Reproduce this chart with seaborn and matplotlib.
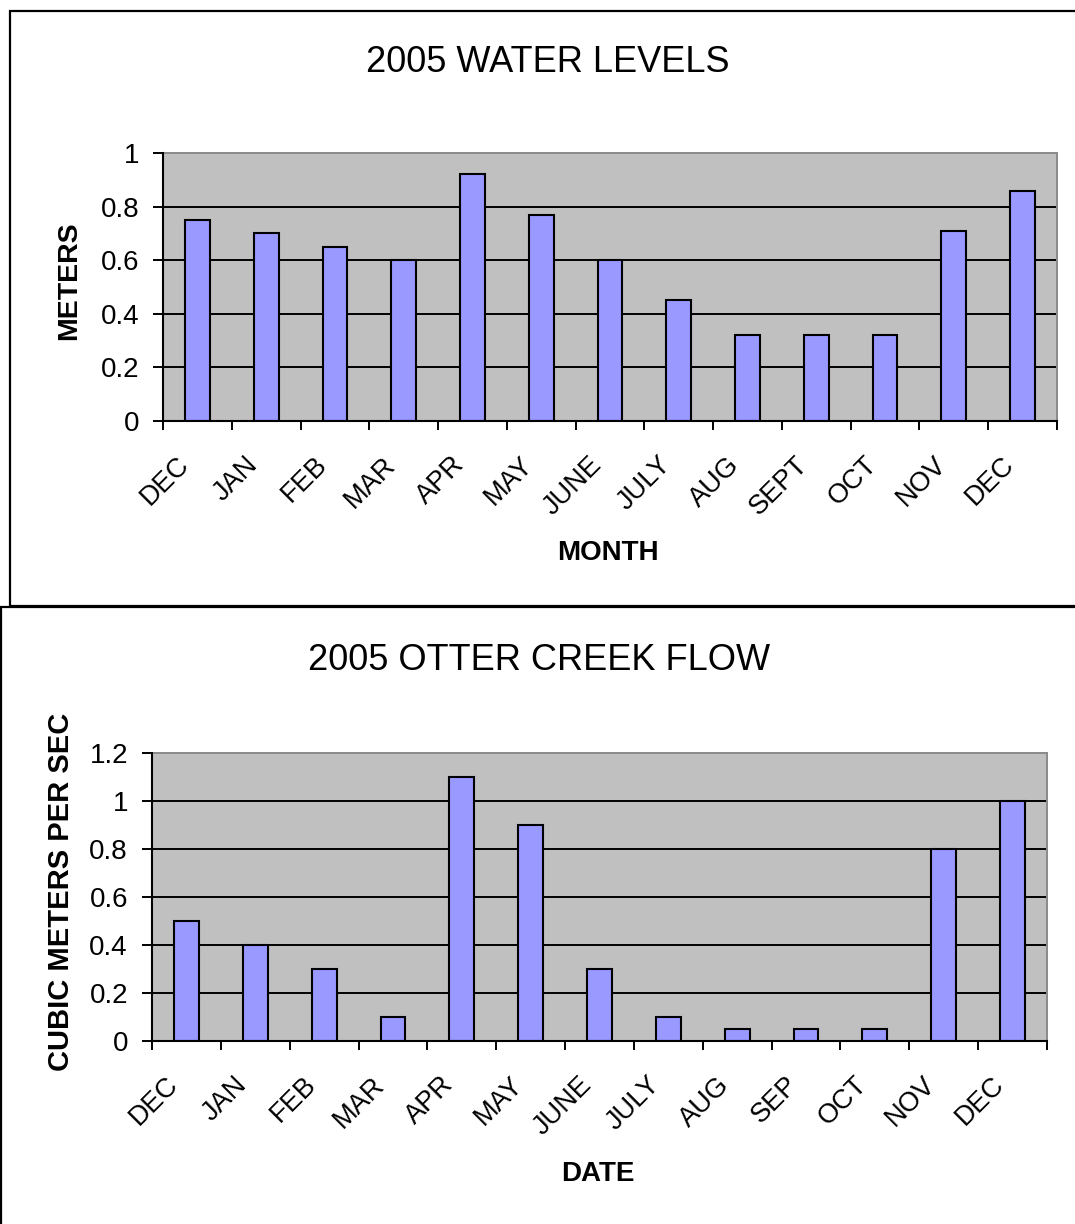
import numpy as np
import pandas as pd
import matplotlib
matplotlib.use("Agg")
import matplotlib.pyplot as plt
import matplotlib.transforms as mtransforms
from matplotlib.patches import Rectangle
from matplotlib.ticker import FuncFormatter, FixedLocator
import seaborn as sns

# ---- data ----
level_months = ["DEC", "JAN", "FEB", "MAR", "APR", "MAY", "JUNE", "JULY",
                "AUG", "SEPT", "OCT", "NOV", "DEC"]
level_values = [0.75, 0.70, 0.65, 0.60, 0.92, 0.77, 0.60, 0.45,
                0.32, 0.32, 0.32, 0.71, 0.86]
level_yticks = [0, 0.2, 0.4, 0.6, 0.8, 1.0]

flow_months = ["DEC", "JAN", "FEB", "MAR", "APR", "MAY", "JUNE", "JULY",
               "AUG", "SEP", "OCT", "NOV", "DEC"]
flow_values = [0.5, 0.4, 0.3, 0.1, 1.1, 0.9, 0.3, 0.1,
               0.05, 0.05, 0.05, 0.8, 1.0]
flow_yticks = [0, 0.2, 0.4, 0.6, 0.8, 1.0, 1.2]

sns.set_theme(style="white")
plt.rcParams['font.family'] = ['Liberation Sans', 'DejaVu Sans']
for k in ["text.color", "axes.labelcolor", "xtick.color", "ytick.color"]:
    plt.rcParams[k] = "black"

W, H = 1075, 1224
fig = plt.figure(figsize=(W / 100, H / 100), dpi=100)
fig.patch.set_facecolor("white")
PT = 72 / 100  # points per pixel


def px_axes(l, t, r, b):
    return fig.add_axes([l / W, 1 - b / H, (r - l) / W, (b - t) / H])


def draw_panel(ax, labels, values, yticks, ylabel, xlabel, ylab_xy, xlab_xy,
               ylabel_size):
    df = pd.DataFrame({"pos": list(range(len(values))), "value": values})
    sns.barplot(data=df, x="pos", y="value", ax=ax, color="#9999FF",
                saturation=1, width=0.36, edgecolor="black", linewidth=1.5,
                zorder=2)
    n = len(values)
    ax.set_xlim(-0.5, n - 0.5)
    ax.set_ylim(yticks[0], yticks[-1])
    ax.set_facecolor("#C0C0C0")
    ax.set_axisbelow(True)
    ax.set_yticks(yticks)
    ax.yaxis.set_major_formatter(FuncFormatter(lambda v, p: f"{v:g}"))
    ax.grid(axis="y", color="black", linewidth=1.4)
    ax.grid(axis="x", visible=False)
    gl = ax.yaxis.get_gridlines()
    gl[-1].set_visible(False)
    # x ticks: labels at centres, marks at boundaries
    ax.set_xticks(range(n))
    ax.set_xticklabels(labels)
    ax.xaxis.set_minor_locator(FixedLocator(np.arange(-0.5, n, 1.0)))
    ax.tick_params(axis="x", which="major", length=0, pad=0, labelsize=19.5)
    ax.tick_params(axis="x", which="minor", length=9 * PT, width=1.4,
                   color="black", bottom=True)
    ax.tick_params(axis="y", which="major", length=10 * PT, width=1.4,
                   color="black", left=True, labelsize=20, pad=14 * PT)
    offset = mtransforms.ScaledTranslation(-12 / 100, -40 / 100,
                                           fig.dpi_scale_trans)
    for lbl in ax.get_xticklabels():
        lbl.set_rotation(45)
        lbl.set_ha("right")
        lbl.set_va("center")
        lbl.set_rotation_mode("anchor")
        lbl.set_transform(lbl.get_transform() + offset)
    for s in ["left", "bottom"]:
        ax.spines[s].set_color("black")
        ax.spines[s].set_linewidth(1.5)
        ax.spines[s].set_zorder(3)
    for s in ["top", "right"]:
        ax.spines[s].set_color("#8A8A8A")
        ax.spines[s].set_linewidth(1.4)
    ax.set_ylabel(ylabel, fontsize=ylabel_size, fontweight="bold")
    ax.yaxis.set_label_coords(*ylab_xy)
    ax.set_xlabel(xlabel, fontsize=20, fontweight="bold")
    ax.xaxis.set_label_coords(*xlab_xy)


ax1 = px_axes(163, 153, 1057, 421)
draw_panel(ax1, level_months, level_values, level_yticks, "METERS", "MONTH",
           (-0.091, 0.522), (0.498, -0.444), 20.5)

ax2 = px_axes(152, 753, 1047, 1041)
draw_panel(ax2, flow_months, flow_values, flow_yticks,
           "CUBIC METERS PER SEC", "DATE", (-0.086, 0.517), (0.498, -0.417),
           21)

fig.text(548 / W, 1 - 63 / H, "2005 WATER LEVELS", ha="center", va="center",
         fontsize=26)
fig.text(539 / W, 1 - 661 / H, "2005 OTTER CREEK FLOW", ha="center",
         va="center", fontsize=26)

# panel frames
fig.add_artist(Rectangle((10 / W, 1 - 606 / H), 1.2, (606 - 11) / H,
                         transform=fig.transFigure, fill=False,
                         edgecolor="black", linewidth=1.6, clip_on=False))
fig.add_artist(Rectangle((1 / W, -0.2), 1.2, 0.2 + 1 - 607 / H,
                         transform=fig.transFigure, fill=False,
                         edgecolor="black", linewidth=1.6, clip_on=False))

fig.savefig("out.png", dpi=100, facecolor="white")
